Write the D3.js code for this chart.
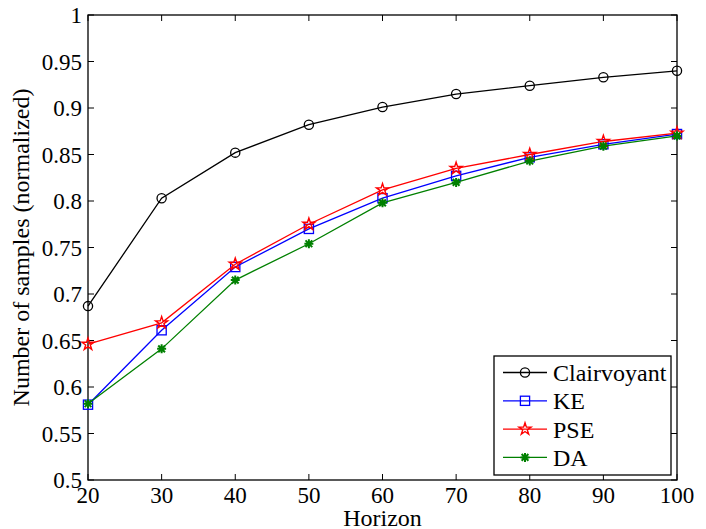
<!DOCTYPE html>
<html><head><meta charset="utf-8">
<script src="https://cdn.jsdelivr.net/npm/d3@7"></script>
</head><body style="margin:0">
<script>
const horizon = [20,30,40,50,60,70,80,90,100];
const clairvoyant = [0.687,0.803,0.852,0.882,0.901,0.915,0.924,0.933,0.940];
const ke = [0.581,0.661,0.729,0.770,0.803,0.827,0.847,0.861,0.872];
const pse = [0.646,0.669,0.732,0.775,0.812,0.835,0.850,0.864,0.873];
const da = [0.582,0.641,0.715,0.754,0.798,0.820,0.843,0.859,0.870];
const xTicks = [20,30,40,50,60,70,80,90,100];
const yTicks = [0.5,0.55,0.6,0.65,0.7,0.75,0.8,0.85,0.9,0.95,1];
const seriesNames = ["Clairvoyant","KE","PSE","DA"];

const FONT = "'Liberation Serif'";
const W=706,H=529, L=88, R=677, T=15, B=480;
const svg = d3.select("body").append("svg").attr("width",W).attr("height",H);
const x = d3.scaleLinear().domain([20,100]).range([L,R]);
const y = d3.scaleLinear().domain([0.5,1]).range([B,T]);

const fs = 23, fl = 24, tl = 6;
const fmt = d => String(+d.toFixed(2));

// tick marks (inward, on all four sides)
const tg = svg.append("g").attr("stroke","#000").attr("stroke-width",1);
xTicks.forEach(v=>{
  tg.append("line").attr("x1",x(v)).attr("x2",x(v)).attr("y1",B).attr("y2",B-tl);
  tg.append("line").attr("x1",x(v)).attr("x2",x(v)).attr("y1",T).attr("y2",T+tl);
});
yTicks.forEach(v=>{
  tg.append("line").attr("x1",L).attr("x2",L+tl).attr("y1",y(v)).attr("y2",y(v));
  tg.append("line").attr("x1",R).attr("x2",R-tl).attr("y1",y(v)).attr("y2",y(v));
});
function txt(px,py,s,size,anchor){
  return svg.append("text").attr("x",px).attr("y",py).attr("font-size",size)
    .style("font-family",FONT).attr("text-anchor",anchor||"start").attr("fill","#000").text(s);
}
xTicks.forEach(v=>txt(x(v),503,String(v),fs,"middle"));
yTicks.forEach(v=>txt(L-6,y(v),fmt(v),fs,"end").attr("dy","0.35em"));

svg.append("rect").attr("x",L).attr("y",T).attr("width",R-L).attr("height",B-T)
  .attr("fill","none").attr("stroke","#000").attr("stroke-width",1.3);

txt((L+R)/2,526,"Horizon",fl,"middle");
svg.append("text").attr("transform",`translate(29,${(T+B)/2}) rotate(-90)`).attr("text-anchor","middle")
  .attr("font-size",fl).style("font-family",FONT).attr("fill","#000").text("Number of samples (normalized)");

function marker(g, type, color, cx, cy){
  if(type==="o") g.append("circle").attr("cx",cx).attr("cy",cy).attr("r",4.6).attr("fill","none").attr("stroke",color).attr("stroke-width",1.3);
  else if(type==="s") g.append("rect").attr("x",cx-4.6).attr("y",cy-4.6).attr("width",9.2).attr("height",9.2).attr("fill","none").attr("stroke",color).attr("stroke-width",1.3);
  else if(type==="p") g.append("path").attr("transform",`translate(${cx},${cy})`).attr("d",d3.symbol(d3.symbolStar,45)()).attr("fill","none").attr("stroke",color).attr("stroke-width",1.4);
  else if(type==="*"){
    const r=4.5, rd=r*0.75;
    g.append("path").attr("d",`M${cx-r},${cy}L${cx+r},${cy}M${cx},${cy-r}L${cx},${cy+r}M${cx-rd},${cy-rd}L${cx+rd},${cy+rd}M${cx-rd},${cy+rd}L${cx+rd},${cy-rd}`)
      .attr("stroke",color).attr("stroke-width",2);
  }
}
const series = [
  {name:seriesNames[0], vals:clairvoyant, color:"#000000", m:"o"},
  {name:seriesNames[1], vals:ke, color:"#0000ff", m:"s"},
  {name:seriesNames[2], vals:pse, color:"#ff0000", m:"p"},
  {name:seriesNames[3], vals:da, color:"#008000", m:"*"}
];
const line = d3.line().x((d,i)=>x(horizon[i])).y(d=>y(d));
series.forEach(s=>{
  const g = svg.append("g");
  g.append("path").attr("d",line(s.vals)).attr("fill","none").attr("stroke",s.color).attr("stroke-width",1.3);
  s.vals.forEach((v,i)=>marker(g,s.m,s.color,x(horizon[i]),y(v)));
});

const lg = svg.append("g");
lg.append("rect").attr("x",494).attr("y",356).attr("width",177).attr("height",119).attr("fill","#fff").attr("stroke","#000").attr("stroke-width",1.3);
series.forEach((s,i)=>{
  const yy = 372.5 + i*28.3;
  lg.append("line").attr("x1",503).attr("x2",547).attr("y1",yy).attr("y2",yy).attr("stroke",s.color).attr("stroke-width",1.3);
  marker(lg,s.m,s.color,525,yy);
  lg.append("text").attr("x",553).attr("y",yy).attr("dy","0.35em").attr("font-size",fl)
    .style("font-family",FONT).attr("fill","#000").text(s.name);
});
</script>
</body></html>
